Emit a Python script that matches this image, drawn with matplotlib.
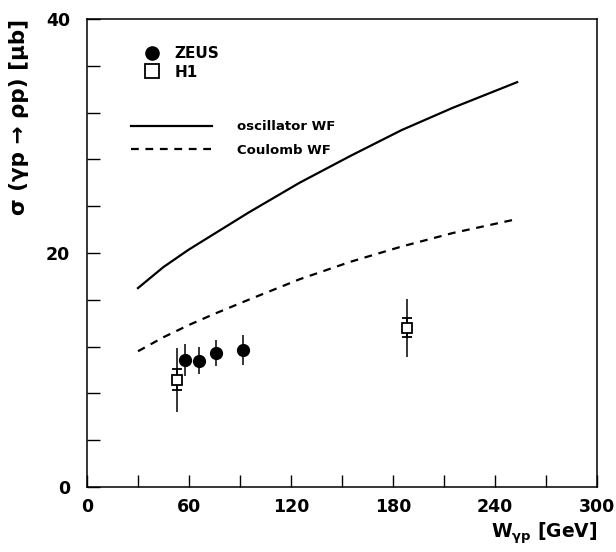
import matplotlib
matplotlib.use("Agg")
import matplotlib.pyplot as plt
from matplotlib.lines import Line2D
from matplotlib.ticker import MultipleLocator

plt.rcParams['font.family'] = ['DejaVu Sans']
plt.rcParams['font.weight'] = 'bold'
plt.rcParams['mathtext.default'] = 'bf'

# model curves
W_model = [30, 45, 60, 75, 95, 125, 155, 185, 215, 253]
sig_osc = [17.0, 18.8, 20.3, 21.65, 23.45, 26.0, 28.3, 30.5, 32.4, 34.6]
sig_coul = [11.6, 12.8, 13.85, 14.8, 16.0, 17.75, 19.25, 20.55, 21.7, 22.9]

# ZEUS data (total errors)
W_zeus = [57.5, 65.8, 76, 91.5]
sig_zeus = [10.85, 10.8, 11.45, 11.7]
err_zeus = [1.35, 1.15, 1.1, 1.25]

# H1 data (stat and total errors)
W_h1 = [53, 188]
sig_h1 = [9.15, 13.6]
stat_h1 = [0.9, 0.8]
tot_h1 = [2.7, 2.5]

fig = plt.figure(figsize=(6.16, 5.52), dpi=100)
ax = fig.add_axes([0.1412, 0.1178, 0.828, 0.8478])

ax.plot(W_model, sig_osc, color='black', lw=1.6)
ax.plot(W_model, sig_coul, color='black', lw=1.6, ls=(0, (3.5, 3)))

ax.errorbar(W_zeus, sig_zeus, yerr=err_zeus, fmt='o', color='black',
            ms=8.5, elinewidth=1.1, capsize=0)
ax.errorbar(W_h1, sig_h1, yerr=tot_h1, fmt='none', ecolor='black',
            elinewidth=1.1, capsize=0)
ax.errorbar(W_h1, sig_h1, yerr=stat_h1, fmt='s', color='black', mfc='white',
            mec='black', mew=1.3, ms=7, elinewidth=1.1, capsize=3.5, capthick=1.1)

ax.set_xlim(0, 300)
ax.set_ylim(0, 40)
ax.xaxis.set_major_locator(MultipleLocator(60))
ax.xaxis.set_minor_locator(MultipleLocator(30))
ax.yaxis.set_major_locator(MultipleLocator(20))
ax.yaxis.set_minor_locator(MultipleLocator(4))
ax.tick_params(which='both', direction='in', length=9, width=1.0,
               top=False, right=False)
ax.tick_params(axis='x', which='major', pad=8, labelsize=12.5)
ax.tick_params(axis='y', which='major', pad=12, labelsize=12.5)
for sp in ax.spines.values():
    sp.set_linewidth(1.1)

ax.set_xlabel('W$_{\\gamma p}$ [GeV]', fontsize=13.5, fontweight='bold',
              loc='right', labelpad=3)
ax.set_ylabel('σ (γp → ρp) [μb]', fontsize=15.5, fontweight='bold',
              loc='top', labelpad=12)

# legends
h_data = [Line2D([], [], ls='none', marker='o', color='black', ms=9.5),
          Line2D([], [], ls='none', marker='s', mfc='white', mec='black',
                 mew=1.3, ms=10.5)]
leg1 = ax.legend(h_data, ['ZEUS', 'H1'], loc='upper left',
                 bbox_to_anchor=(0.1015, 0.955), frameon=False, fontsize=11,
                 handlelength=1.0, handletextpad=0.95, labelspacing=0.22,
                 borderaxespad=0)
ax.add_artist(leg1)

h_lines = [Line2D([], [], color='black', lw=1.6),
           Line2D([], [], color='black', lw=1.6, ls=(0, (3.5, 3)))]
ax.legend(h_lines, ['oscillator WF', 'Coulomb WF'], loc='upper left',
          bbox_to_anchor=(0.075, 0.795), frameon=False, fontsize=9.5,
          handlelength=6.2, handletextpad=1.9, labelspacing=0.8,
          borderaxespad=0)

fig.savefig('out.png', dpi=100)
